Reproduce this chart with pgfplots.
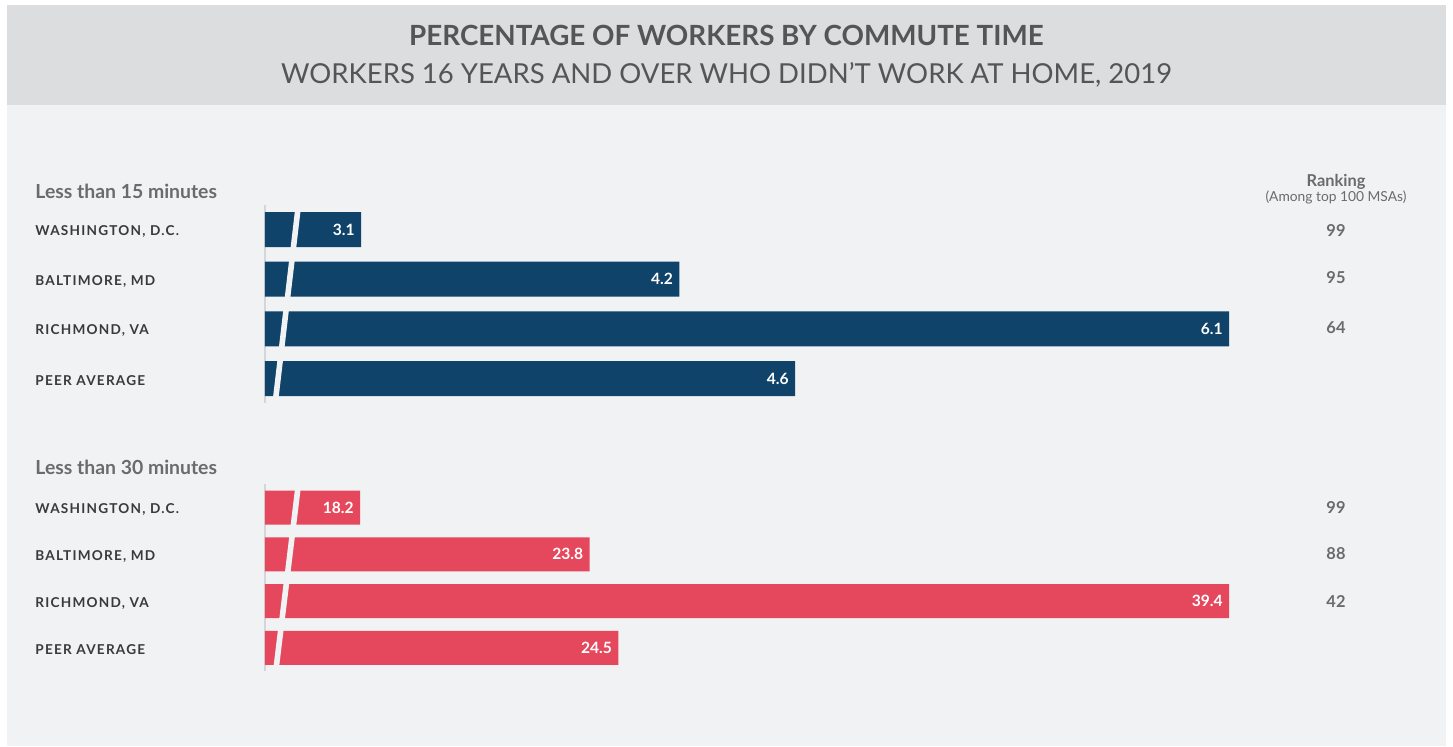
\documentclass[border=0pt]{standalone}
\usepackage{fontspec}
\setmainfont{Lato}
\newfontfamily\latols[LetterSpace=9]{Lato}
\usepackage{pgfplots}
\pgfplotsset{compat=1.18}
\definecolor{bgc}{HTML}{F1F2F4}
\definecolor{bandc}{HTML}{DCDDDF}
\definecolor{navy}{HTML}{0F4369}
\definecolor{redc}{HTML}{E5485C}
\definecolor{titlec}{HTML}{555555}
\definecolor{catc}{HTML}{3A3A3A}
\definecolor{greyc}{HTML}{6B6B6B}
\definecolor{axc}{HTML}{D6D6D8}
\begin{document}
\begin{tikzpicture}
% canvas
\fill[white] (0pt,0pt) rectangle (726.5pt,-373pt);
\fill[bgc] (3.5pt,-52.5pt) rectangle (723pt,-373pt);
\fill[bandc] (3.5pt,-2.5pt) rectangle (723pt,-52.5pt);
\node[anchor=base, text=titlec, font=\fontsize{13.9}{16}\selectfont\bfseries, inner sep=0] at (363.25pt,-22.5pt) {PERCENTAGE OF WORKERS BY COMMUTE TIME};
\node[anchor=base, text=titlec, font=\fontsize{13.75}{16}\selectfont, inner sep=0] at (363.25pt,-41.5pt) {WORKERS 16 YEARS AND OVER WHO DIDN’T WORK AT HOME, 2019};
% section titles
\node[anchor=base west, text=greyc, font=\fontsize{9.7}{11}\selectfont\bfseries, inner sep=0] at (17.5pt,-99pt) {Less than 15 minutes};
\node[anchor=base west, text=greyc, font=\fontsize{9.7}{11}\selectfont\bfseries, inner sep=0] at (17.5pt,-237pt) {Less than 30 minutes};
\node[anchor=base, text=greyc, font=\fontsize{8.2}{9}\selectfont\bfseries, inner sep=0] at (668pt,-93pt) {Ranking};
\node[anchor=base, text=greyc, font=\fontsize{6.9}{7}\selectfont, inner sep=0] at (668pt,-100.8pt) {(Among top 100 MSAs)};
% rankings
\foreach \yy/\rr in {-115/99,-139/95,-164/64,-253.5/99,-277/88,-300.5/42}{
  \node[anchor=center, text=greyc, font=\fontsize{8.2}{9}\selectfont\bfseries, inner sep=0] at (668pt,\yy pt) {\rr};
}
% top panel
\begin{axis}[
  at={(132.5pt,-102.35pt)}, anchor=north west,
  scale only axis, width=482pt, height=99.35pt,
  xmin=2.768, xmax=6.1, ymin=-0.5, ymax=3.5, y dir=reverse,
  xbar, bar width=17.5pt,
  hide x axis, axis y line*=left,
  y axis line style={draw=axc, line width=0.6pt, -},
  ytick={0,1,2,3},
  yticklabels={{WASHINGTON, D.C.}, {BALTIMORE, MD}, {RICHMOND, VA}, {PEER AVERAGE}},
  major tick length=0pt,
  yticklabel style={anchor=west, xshift=-115pt, yshift=-1pt, inner sep=0pt, text=catc, font=\fontsize{6.8}{8}\selectfont\latols\bfseries},
  nodes near coords, point meta=explicit symbolic,
  nodes near coords style={anchor=east, xshift=-3pt, text=white, font=\fontsize{7.8}{9}\selectfont\bfseries, inner sep=0pt},
]
\addplot[fill=navy, draw=none] coordinates {(3.1,0)[3.1] (4.2,1)[4.2] (6.1,2)[6.1] (4.6,3)[4.6]};
\end{axis}
% bottom panel
\begin{axis}[
  at={(132.5pt,-242.05pt)}, anchor=north west,
  scale only axis, width=482pt, height=93.6pt,
  xmin=15.88, xmax=39.4, ymin=-0.5, ymax=3.5, y dir=reverse,
  xbar, bar width=17pt,
  hide x axis, axis y line*=left,
  y axis line style={draw=axc, line width=0.6pt, -},
  ytick={0,1,2,3},
  yticklabels={{WASHINGTON, D.C.}, {BALTIMORE, MD}, {RICHMOND, VA}, {PEER AVERAGE}},
  major tick length=0pt,
  yticklabel style={anchor=west, xshift=-115pt, yshift=-1pt, inner sep=0pt, text=catc, font=\fontsize{6.8}{8}\selectfont\latols\bfseries},
  nodes near coords, point meta=explicit symbolic,
  nodes near coords style={anchor=east, xshift=-3pt, text=white, font=\fontsize{7.8}{9}\selectfont\bfseries, inner sep=0pt},
]
\addplot[fill=redc, draw=none] coordinates {(18.2,0)[18.2] (23.8,1)[23.8] (39.4,2)[39.4] (24.5,3)[24.5]};
\end{axis}
% axis-break stripes
\draw[bgc, line width=2.8pt] (149.15pt,-103pt) -- (137.65pt,-201pt);
\draw[bgc, line width=2.8pt] (149.15pt,-242.5pt) -- (137.9pt,-335.5pt);
\end{tikzpicture}
\end{document}
